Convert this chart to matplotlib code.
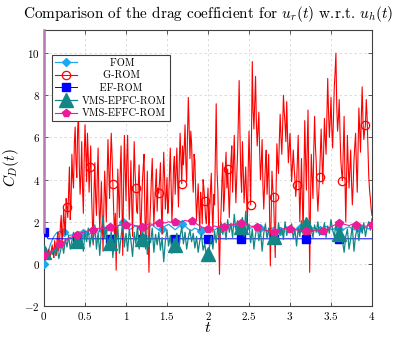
import matplotlib
matplotlib.use("Agg")
import matplotlib.pyplot as plt
import numpy as np

plt.rcParams['font.family'] = 'serif'
plt.rcParams['font.serif'] = ['cmr10']
plt.rcParams['mathtext.fontset'] = 'cm'
plt.rcParams['axes.formatter.use_mathtext'] = True
plt.rcParams['axes.unicode_minus'] = False

# ---------------- data ----------------
dt_grom = 0.01
dt_epfc = 0.02
dt_smooth = 0.04

grom_cd = [
    0.40, 0.30, 0.55, 0.75, 0.35, 0.50, 0.70, 0.20, 0.45, 0.65, 0.90, 0.50, 0.30, 1.10, 0.80, 0.40, 1.20, 1.50, 0.60, 1.10,
    1.80, 2.30, 0.90, 1.60, 2.60, 1.90, 1.40, 3.10, 2.70, 2.20, 3.40, 4.60, 2.10, 2.90, 5.20, 4.10, 3.60, 5.70, 6.50, 4.80,
    4.10, 6.30, 7.20, 4.70, 3.30, 4.20, 5.80, 3.60, 2.40, 4.90, 6.60, 5.40, 3.90, 6.20, 5.10, 3.40, 4.60, 5.60, 3.20, 2.10,
    0.90, 3.40, 4.80, 3.10, 2.30, 4.20, 5.50, 2.90, 1.60, 2.80, 3.90, 2.20, 0.60, 2.70, 4.40, 3.30, 2.00, 4.10, 5.90, 4.50,
    3.10, 4.90, 6.20, 5.10, 3.80, 2.60, 1.20, 2.40, -0.30, 2.10, 4.50, 3.20, 2.20, 4.40, 5.60, 3.00, 0.40, 3.50, 6.10, 4.60,
    3.00, 5.00, 6.10, 3.70, 2.10, 3.30, 4.90, 2.80, 1.30, 3.90, 5.80, 4.40, 3.60, 2.50, 2.40, 3.80, 4.70, 2.60, 1.10, 2.70,
    3.90, 4.60, 5.20, 2.40, 0.70, 2.80, 4.40, 1.60, -0.40, 1.90, 2.90, 4.10, 5.00, 3.20, 1.80, 2.90, 3.70, 4.50, 2.50, 3.60,
    3.35, 4.00, 4.80, 2.70, 1.40, 3.60, 5.30, 4.20, 2.60, 3.20, 4.10, 2.40, 3.00, 4.30, 5.50, 3.70, 2.00, 3.10, 4.60, 5.10,
    3.30, 4.30, 5.50, 3.90, 2.70, 4.80, 6.20, 5.00, 3.80, 5.60, 4.70, 5.50, 6.60, 4.80, 3.90, 6.10, 7.90, 6.40, 5.00, 6.30,
    5.70, 4.20, 3.40, 5.20, 4.90, 3.30, 2.10, 2.90, 3.80, 2.50, 1.60, 3.40, 2.80, 1.90, 4.00, 3.60, 3.00, 2.20, 1.90, 2.80,
    3.60, 1.80, 2.40, 3.50, 4.30, 2.60, 1.50, 3.30, 2.80, 5.10, 7.60, 4.40, 3.50, 1.60, -0.50, 1.50, 2.60, 3.90, 4.80, 2.50,
    3.10, 4.40, 5.30, 3.60, 4.50, 3.30, 2.20, 3.70, 4.90, 5.60, 3.40, 4.80, 6.10, 4.30, 2.90, 4.00, 5.20, 6.80, 8.70, 6.10,
    4.20, 3.40, 5.80, 4.50, 2.90, 3.80, 4.60, 3.10, 1.80, 4.40, 6.30, 4.70, 2.80, 5.90, 9.60, 7.30, 6.40, 7.60, 8.90, 6.70,
    5.60, 6.40, 7.20, 5.30, 4.00, 4.80, 5.90, 3.70, 2.60, 3.60, 4.70, 5.40, 3.30, 4.20, 5.20, 2.50, -0.10, 2.20, 4.40, 3.60,
    3.15, 1.60, 0.30, 3.40, 5.70, 4.80, 4.30, 5.90, 7.10, 6.00, 5.20, 6.50, 8.00, 7.20, 6.60, 5.80, 7.70, 6.10, 4.80, 5.50,
    6.20, 5.10, 3.90, 4.70, 5.40, 4.60, 4.00, 3.20, 3.75, 4.90, 6.10, 3.80, 2.00, 3.60, 5.00, 3.10, 1.40, 4.20, 6.80, 5.00,
    3.50, 5.60, 7.30, 3.60, -0.40, 2.90, 5.20, 4.10, 3.10, 5.40, 7.00, 5.60, 4.80, 3.40, 2.50, 3.30, 4.10, 5.30, 6.40, 5.00,
    3.80, 5.40, 6.90, 5.90, 5.20, 7.10, 8.80, 7.20, 6.00, 6.80, 7.90, 6.40, 5.50, 7.00, 8.40, 9.10, 10.00, 7.50, 6.30, 6.90,
    7.80, 6.20, 4.90, 4.30, 3.95, 5.50, 7.00, 4.10, 2.00, 4.00, 6.10, 4.70, 3.60, 4.50, 5.40, 3.90, 2.80, 3.70, 4.90, 5.60,
    6.20, 4.60, 3.40, 5.50, 7.40, 6.30, 5.30, 7.00, 8.40, 6.80, 5.90, 6.30, 6.60, 7.80, 7.00, 5.50, 4.20, 3.50, 3.10, 2.60,
    2.30]

epfc_cd = [
    0.55, 0.35, 0.50, 0.30, 0.60, 0.45, 0.75, 0.40, 0.85, 0.25,
    0.60, 0.95, 0.50, 1.20, 0.80, 1.35, 0.70, 1.10, 1.50, 0.90,
    1.10, 1.45, 0.85, 1.30, 0.60, 1.55, 1.05, 1.70, 0.80, 1.40,
    1.00, 1.85, 0.70, 1.50, 0.40, 1.60, 2.30, 1.20, 1.75, 0.65,
    1.00, 1.55, 0.30, 1.40, 0.90, 1.75, 0.50, 1.30, 1.95, 0.80,
    1.45, 0.60, 1.65, 1.10, 0.35, 1.50, 0.95, 1.80, 0.70, 1.35,
    1.20, 0.80, 1.60, 0.45, 1.30, 1.00, 1.70, 0.55, 1.40, 0.90,
    1.50, 0.65, 1.25, 0.10, 1.10, 1.60, 0.85, 1.35, 0.50, 1.20,
    0.90, 1.45, 0.60, 1.30, 1.75, 0.95, 1.50, 0.70, 1.25, 1.60,
    1.05, 1.45, 0.75, 1.30, 0.55, 1.10, 1.40, 0.65, 0.95, 0.40,
    0.47, 0.85, 1.30, 0.70, 1.55, 1.00, 1.75, 1.20, 1.95, 1.40,
    1.80, 1.15, 2.10, 1.50, 1.90, 1.25, 2.35, 1.60, 2.05, 1.45,
    1.74, 2.20, 1.30, 2.50, 1.55, 1.90, 1.00, 1.65, 0.70, 1.40,
    1.85, 1.10, 1.60, 0.60, 1.45, 1.90, 1.20, 1.70, 0.95, 1.50,
    1.26, 1.80, 1.05, 1.95, 1.40, 1.70, 1.15, 2.00, 1.35, 1.75,
    1.50, 1.90, 1.20, 1.65, 0.85, 1.70, 1.30, 2.05, 1.45, 1.85,
    1.90, 1.40, 2.10, 1.60, 1.25, 1.85, 1.50, 2.00, 1.35, 1.70,
    1.55, 1.95, 1.25, 1.80, 1.45, 2.10, 1.60, 1.30, 1.90, 1.50,
    1.40, 1.75, 1.10, 0.55, 1.30, 1.65, 0.70, 1.20, 1.80, 0.60,
    1.35, 1.70, 1.10, 1.85, 1.45, 1.95, 1.30, 1.75, 2.00, 1.60,
    2.15]

fom_cd = [
    0.00, 0.45, 0.95, 1.30, 1.50, 1.55, 1.50, 1.40, 1.35, 1.40,
    1.50, 1.52, 1.45, 1.38, 1.42, 1.55, 1.60, 1.52, 1.60, 1.72,
    1.65, 1.55, 1.70, 1.85, 2.00, 1.80, 1.62, 1.70, 1.82, 1.75,
    1.70, 1.60, 1.75, 1.85, 1.72, 1.60, 1.65, 1.80, 1.88, 1.75,
    1.62, 1.75, 1.88, 1.80, 1.65, 1.58, 1.70, 1.62, 1.58, 1.70,
    1.78, 1.65, 1.60, 1.72, 1.70, 1.62, 1.75, 1.85, 1.78, 1.70,
    1.80, 1.72, 1.62, 1.70, 1.78, 1.65, 1.70, 1.62, 1.55, 1.66,
    1.72, 1.60, 1.55, 1.65, 1.75, 1.68, 1.60, 1.66, 1.70, 1.62,
    1.55, 1.65, 1.72, 1.66, 1.60, 1.70, 1.78, 1.68, 1.62, 1.72,
    1.65, 1.58, 1.70, 1.76, 1.66, 1.60, 1.70, 1.78, 1.72, 1.66,
    1.75]

effc_cd = [
    0.40, 0.45, 0.55, 0.70, 0.82, 0.93, 1.05, 1.15, 1.25, 1.32,
    1.38, 1.45, 1.50, 1.55, 1.58, 1.60, 1.66, 1.70, 1.68, 1.72,
    1.75, 1.80, 1.78, 1.84, 1.82, 1.85, 1.90, 1.86, 1.80, 1.76,
    1.75, 1.82, 1.90, 1.88, 1.92, 1.95, 1.98, 1.94, 2.00, 1.96,
    2.00, 2.04, 1.98, 2.06, 2.02, 2.05, 1.95, 1.85, 1.76, 1.70,
    1.67, 1.72, 1.80, 1.74, 1.78, 1.75, 1.82, 1.90, 1.86, 1.92,
    1.95, 1.90, 1.84, 1.80, 1.76, 1.75, 1.70, 1.62, 1.58, 1.54,
    1.50, 1.56, 1.62, 1.66, 1.70, 1.67, 1.64, 1.60, 1.62, 1.58,
    1.55, 1.60, 1.56, 1.62, 1.58, 1.55, 1.62, 1.72, 1.80, 1.88,
    1.95, 1.90, 1.86, 1.82, 1.88, 1.85, 1.80, 1.84, 1.78, 1.82,
    1.86]

ef_t = [0.0, 0.05, 0.4, 0.8, 1.2, 1.6, 2.0, 2.4, 2.8, 3.2, 3.6, 4.0]
ef_cd = [1.50, 1.19, 1.19, 1.19, 1.19, 1.19, 1.19, 1.19, 1.19, 1.19, 1.19, 1.19]

spike_t = [0.0, 0.0]
spike_cd = [1.5, 11.1]

labels = ["FOM", "G-ROM", "EF-ROM", "VMS-EPFC-ROM", "VMS-EFFC-ROM"]
xticks = [0, 0.5, 1, 1.5, 2, 2.5, 3, 3.5, 4]
xticklabels = ["0", "0.5", "1", "1.5", "2", "2.5", "3", "3.5", "4"]
yticks = [-2, 0, 2, 4, 6, 8, 10]
yticklabels = ["-2", "0", "2", "4", "6", "8", "10"]

t_grom = np.arange(len(grom_cd)) * dt_grom
t_epfc = np.arange(len(epfc_cd)) * dt_epfc
t_smooth = np.arange(len(fom_cd)) * dt_smooth

# ---------------- figure ----------------
fig = plt.figure(figsize=(3.98, 3.37), dpi=100)
ax = fig.add_axes([44/398, 31/337, 328/398, 276/337])

c_fom = '#1ba8ec'
c_grom = '#ff0000'
c_ef = '#0000ff'
c_epfc = '#138787'
c_effc = '#ec1b96'

ax.plot(t_smooth, fom_cd, color=c_fom, lw=0.9, marker='D', ms=4.5,
        markevery=6, label=labels[0], zorder=3)
ax.plot(t_grom, grom_cd, color=c_grom, lw=0.8, marker='o', ms=6,
        mfc='none', mec=c_grom, mew=0.9, markevery=28, label=labels[1], zorder=4)
ax.plot(ef_t, ef_cd, color=c_ef, lw=0.7, marker='s', ms=5.5,
        markevery=[0, 2, 3, 4, 5, 6, 7, 8, 9, 10], label=labels[2], zorder=5)
ax.plot(t_epfc, epfc_cd, color=c_epfc, lw=0.9, marker='^', ms=10,
        markevery=slice(0, 181, 20), label=labels[3], zorder=6)
ax.plot(t_smooth, effc_cd, color=c_effc, lw=0.8, marker='p', ms=6,
        markevery=5, label=labels[4], zorder=7)
ax.plot(spike_t, spike_cd, color='#b57ab5', lw=1.8, clip_on=False, zorder=8)

ax.set_xlim(0, 4)
ax.set_ylim(-2, 11.1)
ax.set_xticks(xticks)
ax.set_xticklabels(['$' + s + '$' for s in xticklabels], fontsize=8)
ax.set_yticks(yticks)
ax.set_yticklabels(['$' + s + '$' for s in yticklabels], fontsize=8)
ax.tick_params(direction='in', length=3, width=0.6, top=True, right=True,
               color='#404040', pad=3)
ax.grid(True, color='#d8d8d8', lw=0.6, ls=(0, (3, 3)))
ax.set_axisbelow(True)
for s in ax.spines.values():
    s.set_color('#404040')
    s.set_linewidth(0.8)

ax.set_xlabel('$t$', fontsize=11.5)
ax.xaxis.set_label_coords(0.5, -0.056)
ax.set_ylabel('$C_D(t)$', fontsize=11)
ax.yaxis.set_label_coords(-0.07, 0.5)
ax.set_title('Comparison of the drag coefficient for $u_r(t)$ w.r.t. $u_h(t)$',
             fontsize=11, pad=9)

pad_labels = ["        FOM", "      G-ROM", "     EF-ROM", "VMS-EPFC-ROM", "VMS-EFFC-ROM"]
handles, _ = ax.get_legend_handles_labels()
leg = ax.legend(handles, pad_labels, loc='upper left', bbox_to_anchor=(0.024, 0.909),
                fontsize=7.5, frameon=True, fancybox=False, framealpha=1,
                edgecolor='#404040', handlelength=2.1, borderpad=0.3,
                labelspacing=0.3, handletextpad=0.5, borderaxespad=0)
leg.get_frame().set_linewidth(0.8)
leg.set_zorder(20)

fig.savefig('out.png', dpi=100)
